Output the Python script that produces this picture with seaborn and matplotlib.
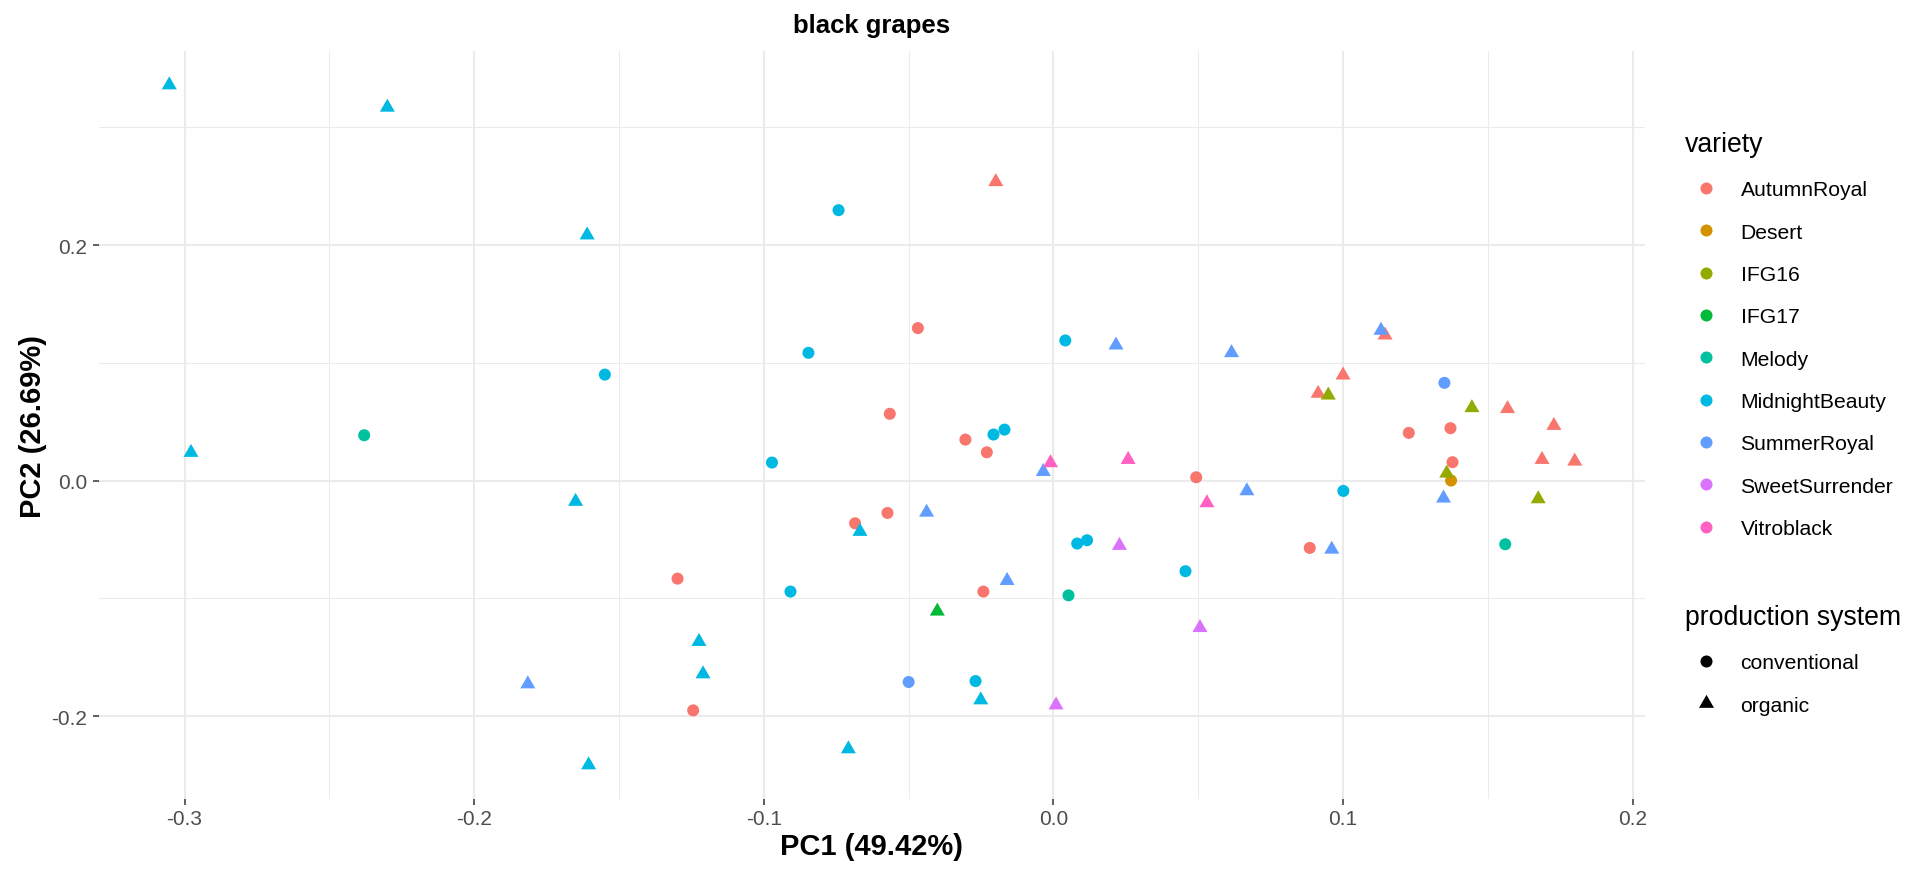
import matplotlib
matplotlib.use("Agg")
import matplotlib.pyplot as plt
from matplotlib.lines import Line2D
from matplotlib.markers import MarkerStyle
from matplotlib.transforms import Affine2D
import pandas as pd
import seaborn as sns

# --- DATA (PCA scores) ---
varieties = ["AutumnRoyal", "Desert", "IFG16", "IFG17", "Melody",
             "MidnightBeauty", "SummerRoyal", "SweetSurrender", "Vitroblack"]
palette = ["#F8766D", "#D39200", "#93AA00", "#00BA38", "#00C19F",
           "#00B9E3", "#619CFF", "#DB72FB", "#FF61C3"]
systems = ["conventional", "organic"]

pc1 = [
    # AutumnRoyal conventional
    -0.0468, -0.0565, -0.0304, -0.0230, 0.0493, -0.0573, -0.0685, -0.1298,
    -0.0242, -0.1244, 0.1227, 0.1371, 0.1378, 0.0885,
    # AutumnRoyal organic
    -0.0199, 0.1145, 0.1000, 0.0914, 0.1568, 0.1728, 0.1687, 0.1800,
    # Desert conventional
    0.1373,
    # IFG16 organic
    0.0949, 0.1445, 0.1358, 0.1674,
    # IFG17 organic
    -0.0401,
    # Melody conventional
    -0.2380, 0.0052, 0.1560,
    # MidnightBeauty conventional
    -0.0742, -0.1549, -0.0846, 0.0041, -0.0207, -0.0169, -0.0972, 0.0082,
    0.0116, 0.0456, -0.0908, -0.0269, 0.1001,
    # MidnightBeauty organic
    -0.3053, -0.2300, -0.1610, -0.2978, -0.1650, -0.1605, -0.0668, -0.1224,
    -0.1210, -0.0251, -0.0708,
    # SummerRoyal conventional
    0.1350, -0.0500,
    # SummerRoyal organic
    0.0216, 0.0615, 0.1131, -0.0035, -0.0438, -0.0160, -0.1815, 0.0668,
    0.1347, 0.0961,
    # SweetSurrender organic
    0.0228, 0.0009, 0.0506,
    # Vitroblack organic
    -0.0010, 0.0258, 0.0530,
]
pc2 = [
    0.1295, 0.0567, 0.0348, 0.0240, 0.0028, -0.0275, -0.0363, -0.0833,
    -0.0943, -0.1952, 0.0405, 0.0445, 0.0156, -0.0572,
    0.2538, 0.1235, 0.0895, 0.0740, 0.0610, 0.0467, 0.0178, 0.0164,
    0.0000,
    0.0725, 0.0618, 0.0062, -0.0156,
    -0.1110,
    0.0385, -0.0975, -0.0541,
    0.2297, 0.0900, 0.1085, 0.1190, 0.0391, 0.0433, 0.0153, -0.0535,
    -0.0507, -0.0770, -0.0943, -0.1703, -0.0088,
    0.3360, 0.3170, 0.2085, 0.0238, -0.0178, -0.2416, -0.0433, -0.1368,
    -0.1643, -0.1864, -0.2280,
    0.0830, -0.1711,
    0.1150, 0.1085, 0.1275, 0.0076, -0.0270, -0.0850, -0.1728, -0.0088,
    -0.0150, -0.0584,
    -0.0552, -0.1907, -0.1250,
    0.0150, 0.0178, -0.0190,
]
variety = (["AutumnRoyal"] * 22 + ["Desert"] + ["IFG16"] * 4 + ["IFG17"]
           + ["Melody"] * 3 + ["MidnightBeauty"] * 24 + ["SummerRoyal"] * 12
           + ["SweetSurrender"] * 3 + ["Vitroblack"] * 3)
system = (["conventional"] * 14 + ["organic"] * 8 + ["conventional"]
          + ["organic"] * 5 + ["conventional"] * 3
          + ["conventional"] * 13 + ["organic"] * 11
          + ["conventional"] * 2 + ["organic"] * 10
          + ["organic"] * 6)

df = pd.DataFrame({"PC1": pc1, "PC2": pc2, "variety": variety,
                   "production system": system})

plt.rcParams["font.family"] = ["Liberation Sans", "DejaVu Sans"]
plt.rcParams["axes.unicode_minus"] = False

# R-style filled triangle (centred on its centroid)
tri = MarkerStyle([(0, 1.555), (1.347, -0.778), (-1.347, -0.778)],
                  transform=Affine2D().scale(1.44))
markers = {"conventional": "o", "organic": tri}

fig = plt.figure(figsize=(19.23, 8.7), dpi=100)
ax = fig.add_axes([99 / 1923, 70 / 870, (1645 - 99) / 1923, (800 - 52) / 870])

sns.scatterplot(data=df, x="PC1", y="PC2", hue="variety", style="production system",
                hue_order=varieties, style_order=systems, palette=palette,
                markers=markers, s=75, linewidth=0, legend=False, ax=ax, zorder=3)

# ggplot-like 5% expansion
xr = df["PC1"].max() - df["PC1"].min()
yr = df["PC2"].max() - df["PC2"].min()
ax.set_xlim(df["PC1"].min() - 0.05 * xr, df["PC1"].max() + 0.05 * xr)
ax.set_ylim(df["PC2"].min() - 0.05 * yr, df["PC2"].max() + 0.05 * yr)

ax.set_xticks([-0.3, -0.2, -0.1, 0.0, 0.1, 0.2])
ax.set_xticks([-0.25, -0.15, -0.05, 0.05, 0.15], minor=True)
ax.set_yticks([-0.2, 0.0, 0.2])
ax.set_yticks([-0.1, 0.1, 0.3], minor=True)
ax.grid(which="major", color="#EBEBEB", lw=1.45, zorder=0)
ax.grid(which="minor", color="#EBEBEB", lw=0.75, zorder=0)
ax.set_axisbelow(True)
for sp in ax.spines.values():
    sp.set_visible(False)
ax.tick_params(which="major", length=4.5, width=1.1, color="#333333",
               labelcolor="#4D4D4D", labelsize=15)
ax.tick_params(axis="x", pad=2.5)
ax.tick_params(axis="y", pad=4)
ax.tick_params(which="minor", length=0)

ax.set_xlabel("PC1 (49.42%)", fontsize=21, fontweight="bold", labelpad=3)
ax.set_ylabel("PC2 (26.69%)", fontsize=21, fontweight="bold", labelpad=3)
ax.set_title("black grapes", fontsize=18.5, fontweight="bold", pad=13.5)

# --- legends (ggplot style: two separate guides) ---
leg_kw = dict(loc="upper left", frameon=False, fontsize=15.2, title_fontsize=19.2,
              handlelength=2.0, handletextpad=0.63, labelspacing=1.105,
              borderpad=0, borderaxespad=0, alignment="left")

hue_handles = [Line2D([], [], ls="", marker="o", markersize=8.66, color=c, mec="none")
               for c in palette]
fig.legend(hue_handles, varieties, title="variety",
           bbox_to_anchor=(1685 / 1923, (870 - 132) / 870), **leg_kw)

sys_handles = [Line2D([], [], ls="", marker=markers[s], markersize=8.66,
                      color="black", mec="none") for s in systems]
fig.legend(sys_handles, systems, title="production system",
           bbox_to_anchor=(1685 / 1923, (870 - 605) / 870), **leg_kw)

fig.savefig("out.png", dpi=100)
